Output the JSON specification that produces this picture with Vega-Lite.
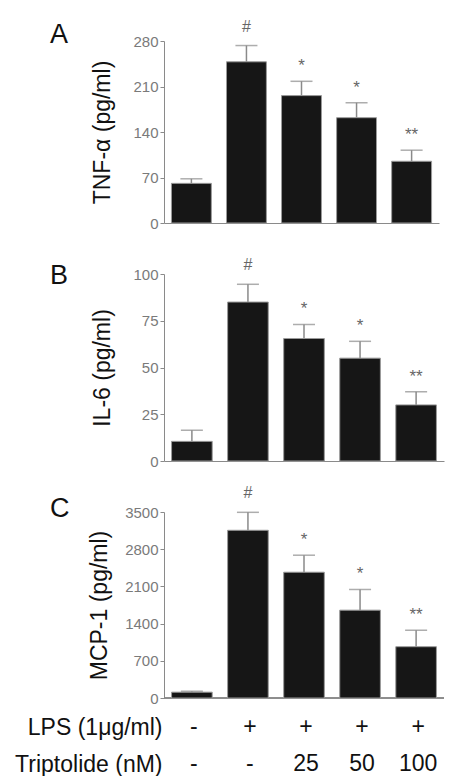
{
  "$schema": "https://vega.github.io/schema/vega-lite/v6.json",
  "background": "white",
  "padding": {"left": 14, "top": 18, "right": 5, "bottom": 0},
  "spacing": 51,
  "bounds": "flush",
  "config": {
    "font": "Liberation Sans",
    "view": {"stroke": null},
    "axis": {"grid": false, "domainColor": "#8a8a8a", "tickColor": "#8a8a8a", "labelColor": "#7a7a7a", "labelFontSize": 15, "tickSize": 4, "labelPadding": 2, "titleFontSize": 23, "titleFontWeight": "normal", "titleColor": "#111111", "labelOverlap": false},
    "title": {"fontSize": 27, "fontWeight": "normal", "color": "#111111", "anchor": "start", "frame": "group", "dx": -114}
  },
  "datasets": {
    "tnf": [
      {"group": "Control", "mean": 61, "err": 68, "sig": ""},
      {"group": "LPS", "mean": 248, "err": 273, "sig": "#"},
      {"group": "LPS+TP25", "mean": 196, "err": 218, "sig": "*"},
      {"group": "LPS+TP50", "mean": 162, "err": 185, "sig": "*"},
      {"group": "LPS+TP100", "mean": 95, "err": 112, "sig": "**"}
    ],
    "il6": [
      {"group": "Control", "mean": 10.5, "err": 16.5, "sig": ""},
      {"group": "LPS", "mean": 85, "err": 94.5, "sig": "#"},
      {"group": "LPS+TP25", "mean": 65.5, "err": 73, "sig": "*"},
      {"group": "LPS+TP50", "mean": 55, "err": 64, "sig": "*"},
      {"group": "LPS+TP100", "mean": 30, "err": 37, "sig": "**"}
    ],
    "mcp1": [
      {"group": "Control", "mean": 110, "err": 125, "sig": ""},
      {"group": "LPS", "mean": 3156, "err": 3494, "sig": "#"},
      {"group": "LPS+TP25", "mean": 2367, "err": 2687, "sig": "*"},
      {"group": "LPS+TP50", "mean": 1653, "err": 2042, "sig": "*"},
      {"group": "LPS+TP100", "mean": 965, "err": 1277, "sig": "**"}
    ],
    "rows": [
      {"row": "LPS (1μg/ml)", "group": "Control", "val": "-"},
      {"row": "LPS (1μg/ml)", "group": "LPS", "val": "+"},
      {"row": "LPS (1μg/ml)", "group": "LPS+TP25", "val": "+"},
      {"row": "LPS (1μg/ml)", "group": "LPS+TP50", "val": "+"},
      {"row": "LPS (1μg/ml)", "group": "LPS+TP100", "val": "+"},
      {"row": "Triptolide (nM)", "group": "Control", "val": "-"},
      {"row": "Triptolide (nM)", "group": "LPS", "val": "-"},
      {"row": "Triptolide (nM)", "group": "LPS+TP25", "val": "25"},
      {"row": "Triptolide (nM)", "group": "LPS+TP50", "val": "50"},
      {"row": "Triptolide (nM)", "group": "LPS+TP100", "val": "100"}
    ]
  },
  "vconcat": [
    {
      "data": {"name": "tnf"},
      "width": 275, "height": 182,
      "title": {"text": "A", "offset": -30},
      "encoding": {"x": {"field": "group", "type": "nominal", "sort": null, "scale": {"paddingInner": 0.275, "paddingOuter": 0.135}, "axis": {"title": null, "labels": false, "ticks": false}}},
      "layer": [
        {"mark": {"type": "rule", "color": "#8a8a8a", "strokeWidth": 1.5}, "encoding": {"y": {"field": "mean", "type": "quantitative", "title": "TNF-α (pg/ml)", "scale": {"domain": [0, 280], "nice": false}, "axis": {"values": [0, 70, 140, 210, 280], "titlePadding": 18}}, "y2": {"field": "err"}}},
        {"mark": {"type": "tick", "color": "#8a8a8a", "thickness": 1.5, "size": 22}, "encoding": {"y": {"field": "err", "type": "quantitative", "title": "TNF-α (pg/ml)"}}},
        {"mark": {"type": "bar", "color": "#161616", "stroke": "#9a9a9a", "strokeWidth": 1}, "encoding": {"y": {"field": "mean", "type": "quantitative", "title": "TNF-α (pg/ml)"}}},
        {"transform": [{"filter": "datum.sig === '#'"}], "mark": {"type": "text", "fontSize": 16, "color": "#666666", "dy": -19}, "encoding": {"y": {"field": "err", "type": "quantitative", "title": "TNF-α (pg/ml)"}, "text": {"field": "sig"}}},
        {"transform": [{"filter": "datum.sig === '*' || datum.sig === '**'"}], "mark": {"type": "text", "fontSize": 17, "color": "#666666", "dy": -15}, "encoding": {"y": {"field": "err", "type": "quantitative", "title": "TNF-α (pg/ml)"}, "text": {"field": "sig"}}}
      ]
    },
    {
      "data": {"name": "il6"},
      "width": 280, "height": 187,
      "title": {"text": "B", "offset": -33},
      "encoding": {"x": {"field": "group", "type": "nominal", "sort": null, "scale": {"paddingInner": 0.275, "paddingOuter": 0.135}, "axis": {"title": null, "labels": false, "ticks": false}}},
      "layer": [
        {"mark": {"type": "rule", "color": "#8a8a8a", "strokeWidth": 1.5}, "encoding": {"y": {"field": "mean", "type": "quantitative", "title": "IL-6 (pg/ml)", "scale": {"domain": [0, 100], "nice": false}, "axis": {"values": [0, 25, 50, 75, 100], "titlePadding": 18}}, "y2": {"field": "err"}}},
        {"mark": {"type": "tick", "color": "#8a8a8a", "thickness": 1.5, "size": 22}, "encoding": {"y": {"field": "err", "type": "quantitative", "title": "IL-6 (pg/ml)"}}},
        {"mark": {"type": "bar", "color": "#161616", "stroke": "#9a9a9a", "strokeWidth": 1}, "encoding": {"y": {"field": "mean", "type": "quantitative", "title": "IL-6 (pg/ml)"}}},
        {"transform": [{"filter": "datum.sig === '#'"}], "mark": {"type": "text", "fontSize": 16, "color": "#666666", "dy": -19}, "encoding": {"y": {"field": "err", "type": "quantitative", "title": "IL-6 (pg/ml)"}, "text": {"field": "sig"}}},
        {"transform": [{"filter": "datum.sig === '*' || datum.sig === '**'"}], "mark": {"type": "text", "fontSize": 17, "color": "#666666", "dy": -15}, "encoding": {"y": {"field": "err", "type": "quantitative", "title": "IL-6 (pg/ml)"}, "text": {"field": "sig"}}}
      ]
    },
    {
      "width": 280, "height": 260,
      "title": {"text": "C", "offset": -38},
      "resolve": {"scale": {"y": "independent"}, "axis": {"y": "independent"}},
      "layer": [
        {
          "data": {"name": "mcp1"},
          "layer": [
            {"mark": {"type": "rule", "color": "#8a8a8a", "strokeWidth": 1.5}, "encoding": {"x": {"field": "group", "type": "nominal", "sort": null, "scale": {"paddingInner": 0.275, "paddingOuter": 0.135}, "axis": null}, "y": {"field": "mean", "type": "quantitative", "title": "MCP-1 (pg/ml)", "scale": {"domain": [0, 3500], "nice": false, "range": [186, 0]}, "axis": {"values": [0, 700, 1400, 2100, 2800, 3500], "format": "d", "titlePadding": 13}}, "y2": {"field": "err"}}},
            {"mark": {"type": "rule", "color": "#8a8a8a", "strokeWidth": 1}, "encoding": {"y": {"datum": 0, "type": "quantitative", "title": "MCP-1 (pg/ml)"}}},
            {"mark": {"type": "tick", "color": "#8a8a8a", "thickness": 1.5, "size": 22}, "encoding": {"x": {"field": "group", "type": "nominal", "sort": null}, "y": {"field": "err", "type": "quantitative", "title": "MCP-1 (pg/ml)"}}},
            {"mark": {"type": "bar", "color": "#161616", "stroke": "#9a9a9a", "strokeWidth": 1}, "encoding": {"x": {"field": "group", "type": "nominal", "sort": null}, "y": {"field": "mean", "type": "quantitative", "title": "MCP-1 (pg/ml)"}}},
            {"transform": [{"filter": "datum.sig === '#'"}], "mark": {"type": "text", "fontSize": 16, "color": "#666666", "dy": -19}, "encoding": {"x": {"field": "group", "type": "nominal", "sort": null}, "y": {"field": "err", "type": "quantitative", "title": "MCP-1 (pg/ml)"}, "text": {"field": "sig"}}},
            {"transform": [{"filter": "datum.sig === '*' || datum.sig === '**'"}], "mark": {"type": "text", "fontSize": 17, "color": "#666666", "dy": -15}, "encoding": {"x": {"field": "group", "type": "nominal", "sort": null}, "y": {"field": "err", "type": "quantitative", "title": "MCP-1 (pg/ml)"}, "text": {"field": "sig"}}}
          ]
        },
        {
          "data": {"name": "rows"},
          "mark": {"type": "text", "fontSize": 23, "color": "#111111", "dx": 2},
          "encoding": {
            "x": {"field": "group", "type": "nominal", "sort": null},
            "y": {"field": "row", "type": "nominal", "sort": null, "scale": {"type": "point", "range": [215, 252], "padding": 0}, "axis": {"orient": "left", "title": null, "domain": false, "ticks": false, "labelFontSize": 23, "labelColor": "#111111", "labelPadding": 2}},
            "text": {"field": "val"}
          }
        }
      ]
    }
  ]
}
